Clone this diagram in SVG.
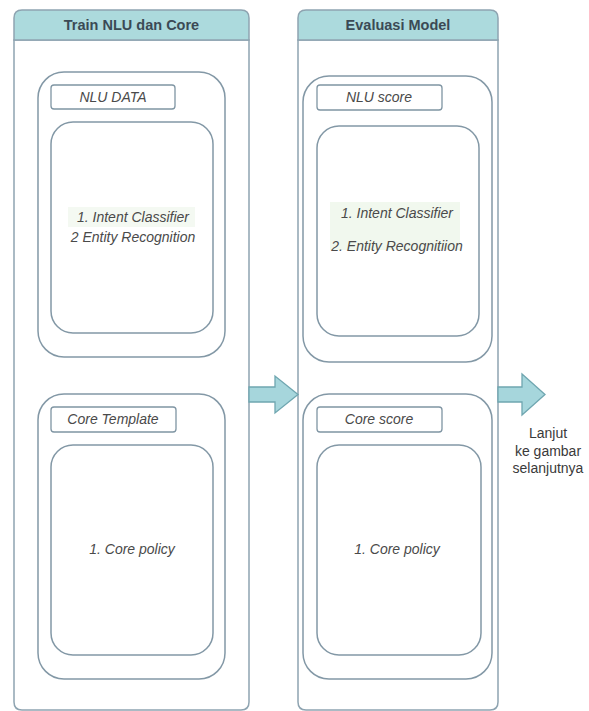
<svg xmlns="http://www.w3.org/2000/svg" width="589" height="711" viewBox="0 0 589 711">
  <style>
    .panel { fill: #ffffff; stroke: #8ea4b1; stroke-width: 1.5; }
    .head { fill: #acdadd; stroke: #8ea4b1; stroke-width: 1.5; }
    .group { fill: #ffffff; stroke: #8398a6; stroke-width: 1.5; }
    .inner { fill: #ffffff; stroke: #8398a6; stroke-width: 1.5; }
    .tag { fill: #ffffff; stroke: #7f95a3; stroke-width: 1.3; }
    .title { font-family: "Liberation Sans", Arial, sans-serif; font-size: 14.5px; font-weight: bold; fill: #3b4a55; text-anchor: middle; }
    .it { font-family: "Liberation Sans", Arial, sans-serif; font-size: 14px; font-style: italic; fill: #4a4a4a; text-anchor: middle; }
    .plain { font-family: "Liberation Sans", Arial, sans-serif; font-size: 14px; fill: #3a3a3a; text-anchor: middle; }
    .arrow { fill: #a6d6dc; stroke: #6fa6b0; stroke-width: 1.3; }
  </style>

  <!-- Left panel: Train NLU dan Core -->
  <g id="train">
    <path class="panel" d="M14,40 H249 V702 Q249,710 241,710 H22 Q14,710 14,702 Z"/>
    <path class="head" d="M22,10 H241 Q249,10 249,18 V40 H14 V18 Q14,10 22,10 Z"/>
    <text class="title" x="131.5" y="30">Train NLU dan Core</text>
  </g>

  <g id="nlu-data">
    <rect class="group" x="38" y="72" width="187" height="285" rx="26"/>
    <rect class="tag" x="51" y="85" width="124" height="24" rx="3"/>
    <text class="it" x="113" y="102">NLU DATA</text>
  </g>
  <g id="nlu-data-items">
    <rect class="inner" x="51" y="122" width="162" height="211" rx="22"/>
    <rect x="68" y="207" width="127" height="20" fill="#f4f9f2"/>
    <text class="it" x="133" y="222">1. Intent Classifier</text>
    <text class="it" x="133" y="242">2 Entity Recognition</text>
  </g>

  <g id="core-template">
    <rect class="group" x="38" y="394" width="187" height="285" rx="26"/>
    <rect class="tag" x="51" y="407" width="125" height="25" rx="3"/>
    <text class="it" x="113" y="424">Core Template</text>
  </g>
  <g id="core-template-items">
    <rect class="inner" x="51" y="445" width="162" height="210" rx="22"/>
    <text class="it" x="132" y="554">1. Core policy</text>
  </g>

  <!-- Right panel: Evaluasi Model -->
  <g id="evaluasi">
    <path class="panel" d="M298,40 H498 V702 Q498,710 490,710 H306 Q298,710 298,702 Z"/>
    <path class="head" d="M306,10 H490 Q498,10 498,18 V40 H298 V18 Q298,10 306,10 Z"/>
    <text class="title" x="398" y="30">Evaluasi Model</text>
  </g>

  <g id="nlu-score">
    <rect class="group" x="303" y="76" width="189" height="286" rx="26"/>
    <rect class="tag" x="317" y="85" width="125" height="25" rx="3"/>
    <text class="it" x="379" y="102">NLU score</text>
  </g>
  <g id="nlu-score-items">
    <rect class="inner" x="317" y="126" width="162" height="210" rx="22"/>
    <rect x="330" y="202" width="130" height="48" fill="#f1f8ee"/>
    <text class="it" x="397" y="218">1. Intent Classifier</text>
    <text class="it" x="397" y="251">2. Entity Recognitiion</text>
  </g>

  <g id="core-score">
    <rect class="group" x="303" y="394" width="189" height="285" rx="26"/>
    <rect class="tag" x="317" y="407" width="125" height="25" rx="3"/>
    <text class="it" x="379" y="424">Core score</text>
  </g>
  <g id="core-score-items">
    <rect class="inner" x="317" y="445" width="164" height="210" rx="22"/>
    <text class="it" x="397" y="554">1. Core policy</text>
  </g>

  <g id="next-label">
    <text class="plain" x="548" y="438">Lanjut</text>
    <text class="plain" x="548" y="456">ke gambar</text>
    <text class="plain" x="548" y="473">selanjutnya</text>
  </g>

  <!-- Connectors: block arrows between stages -->
  <g id="connectors">
    <path class="arrow" d="M249,387 H275 V376 L298,394.5 L275,413 V402 H249 Z"/>
    <path class="arrow" d="M498,387 H522 V374 L545,394.5 L522,415 V402 H498 Z"/>
  </g>
</svg>
